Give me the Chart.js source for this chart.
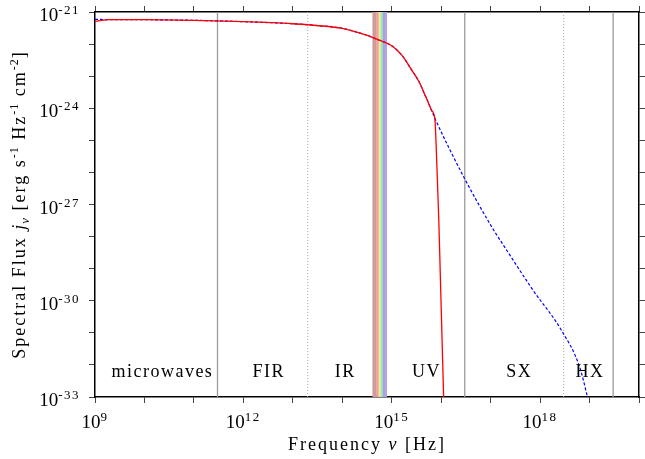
<!DOCTYPE html>
<html>
<head>
<meta charset="utf-8">
<script src="https://cdn.jsdelivr.net/npm/chart.js@4.4.1/dist/chart.umd.min.js"></script>
<style>
  body { margin: 0; background: #fff; }
  #wrap { width: 645px; height: 459px; }
</style>
</head>
<body>
<div id="wrap"><canvas id="spectrum"></canvas></div>
<script>
// thermal curve with exponential cutoff (red) and with the power-law tail (blue dashed)
const redFreq = [1e9, 2e9, 1e10, 1e11, 1e12, 1e13, 3e13, 1e14, 1.8e14, 3.2e14, 5.6e14, 1e15, 1.6e15, 2.5e15, 3.7e15, 4.5e15, 5.4e15, 6.3e15, 7.4e15,
                 7.6e15, 8.2e15, 8.9e15, 9.3e15, 1.12e16];
const redFlux = [5.1e-22, 5.8e-22, 5.75e-22, 5.5e-22, 5.0e-22, 4.3e-22, 3.8e-22, 3.1e-22, 2.45e-22, 1.86e-22, 1.32e-22, 8.9e-23, 4.5e-23, 1.6e-23, 6.0e-24, 3.0e-24, 1.6e-24, 9.0e-25, 5.0e-25,
                 3.0e-25, 1.5e-26, 4.2e-28, 3.9e-29, 1.0e-33];
const blueFreq = [1e9, 2e9, 1e10, 1e11, 1e12, 1e13, 3e13, 1e14, 1.8e14, 3.2e14, 5.6e14, 1e15, 1.6e15, 2.5e15, 3.7e15, 4.5e15, 5.4e15, 6.3e15, 7.4e15,
                  2.95e16, 1.15e17, 1.8e17, 7.1e17, 2.7e18, 6.3e18, 9.1e18];
const blueFlux = [5.9e-22, 5.8e-22, 5.75e-22, 5.5e-22, 5.0e-22, 4.3e-22, 3.8e-22, 3.1e-22, 2.45e-22, 1.86e-22, 1.32e-22, 8.9e-23, 4.5e-23, 1.6e-23, 6.0e-24, 3.0e-24, 1.6e-24, 9.0e-25, 5.0e-25,
                  6.6e-27, 1.6e-28, 5.5e-29, 2.2e-30, 1.2e-31, 8.7e-33, 1.0e-33];

// band boundaries [Hz]
const solidBounds = [3e11, 3e16, 3e19];
const dottedBounds = [2e13, 3e18];
const visibleEdges = [4.07e14, 4.9e14, 5.45e14, 5.9e14, 6.6e14, 7.2e14, 7.9e14];
const visibleColors = ["#cf9c9c", "#f4a0a0", "#f6ee96", "#a4eaa4", "#a0a0f5", "#b7a1e2"];

const regionNames = ["microwaves", "FIR", "IR", "UV", "SX", "HX"];
const regionFreq = [2.2e10, 3.1e12, 1.1e14, 4.8e15, 3.6e17, 9.8e18];
const regionFlux = [5.7e-33, 5.7e-33, 5.7e-33, 5.7e-33, 5.7e-33, 5.7e-33];

const xMin = 1e9, xMax = 1e20, yMin = 1e-33, yMax = 1e-21;
const xDecades = [9, 10, 11, 12, 13, 14, 15, 16, 17, 18, 19, 20];
const yDecades = [-33, -32, -31, -30, -29, -28, -27, -26, -25, -24, -23, -22, -21];
const xLabelExps = [9, 12, 15, 18];
const yLabelExps = [-21, -24, -27, -30, -33];

const FONT = '"Liberation Serif", "Times New Roman", serif';

const pts = (xs, ys) => xs.map((v, i) => ({ x: v, y: ys[i] }));
const vline = (f) => [{ x: f, y: yMin }, { x: f, y: yMax }];

const datasets = [
  { data: pts(redFreq, redFlux), borderColor: "#ff0000", borderWidth: 1.3, order: 0, cubicInterpolationMode: "monotone" },
  { data: pts(blueFreq, blueFlux), borderColor: "#0000ff", borderWidth: 1.2, borderDash: [3, 2], order: 1, cubicInterpolationMode: "monotone" },
];
solidBounds.forEach((f) => datasets.push({ data: vline(f), borderColor: "#9a9a9a", borderWidth: 1.3, order: 6 }));
dottedBounds.forEach((f) => datasets.push({ data: vline(f), borderColor: "#aaaaaa", borderWidth: 1, borderDash: [1, 2], order: 6 }));

const decadeTicks = (exps) => (scale) => { scale.ticks = exps.map((e) => ({ value: Math.pow(10, e) })); };

function axis(position, min, max, exps) {
  return {
    type: "logarithmic", position, min, max,
    afterBuildTicks: decadeTicks(exps),
    ticks: { display: false },
    grid: { drawOnChartArea: false, drawTicks: true, tickLength: 6, color: "#444", lineWidth: 1 },
    border: { color: "#000", width: 1.5 },
  };
}

function drawRuns(ctx, runs, x0, baseline, align) {
  let total = 0;
  runs.forEach((r) => { ctx.font = r.font; ctx.letterSpacing = r.ls || "0px"; r.w = ctx.measureText(r.t).width; total += r.w; });
  let x = align === "right" ? x0 - total : x0 - total / 2;
  runs.forEach((r) => {
    ctx.font = r.font; ctx.letterSpacing = r.ls || "0px";
    ctx.fillText(r.t, x, baseline + (r.dy || 0));
    x += r.w;
  });
}

function drawPower(ctx, exp, px, baseline, align) {
  drawRuns(ctx, [
    { t: "10", font: "19px " + FONT },
    { t: String(exp), font: "13px " + FONT, ls: "1.5px", dy: -7 },
  ], px, baseline, align);
}

// visible-light rainbow band, placed through the x scale
const rainbow = {
  id: "rainbow",
  beforeDatasetsDraw(chart) {
    const { ctx, chartArea: a, scales: { x } } = chart;
    ctx.save();
    visibleColors.forEach((c, i) => {
      const x1 = x.getPixelForValue(visibleEdges[i]);
      const x2 = x.getPixelForValue(visibleEdges[i + 1]);
      ctx.fillStyle = c;
      ctx.fillRect(x1, a.top, x2 - x1 + 0.3, a.bottom - a.top);
    });
    ctx.restore();
  },
};

const annotate = {
  id: "annotate",
  afterDraw(chart) {
    const { ctx, chartArea: a, scales: { x, y } } = chart;
    ctx.save();
    ctx.fillStyle = "#000";
    ctx.textAlign = "left";
    ctx.textBaseline = "alphabetic";

    xLabelExps.forEach((e) => drawPower(ctx, e, x.getPixelForValue(Math.pow(10, e)), a.bottom + 31, "center"));
    yLabelExps.forEach((e) => drawPower(ctx, e, a.left - 15, y.getPixelForValue(Math.pow(10, e)) + 9, "right"));

    // region names
    ctx.font = "18px " + FONT;
    ctx.letterSpacing = "1.5px";
    ctx.textAlign = "center";
    ctx.textBaseline = "middle";
    regionNames.forEach((n, i) => ctx.fillText(n, x.getPixelForValue(regionFreq[i]) + 1, y.getPixelForValue(regionFlux[i])));

    ctx.textAlign = "left";
    ctx.textBaseline = "alphabetic";
    const big = "18px " + FONT, ital = "italic 18px " + FONT, small = "12px " + FONT;
    drawRuns(ctx, [
      { t: "Frequency ", font: big, ls: "2px" },
      { t: "ν", font: ital, ls: "2px" },
      { t: " [Hz]", font: big, ls: "2px" },
    ], (a.left + a.right) / 2, a.bottom + 53);

    ctx.translate(25, (a.top + a.bottom) / 2);
    ctx.rotate(-Math.PI / 2);
    drawRuns(ctx, [
      { t: "Spectral Flux ", font: big, ls: "2px" },
      { t: "j", font: ital, ls: "1px" },
      { t: "ν", font: "italic 13px " + FONT, dy: 4, ls: "1px" },
      { t: " [erg s", font: big, ls: "2px" },
      { t: "-1", font: small, dy: -7, ls: "1px" },
      { t: " Hz", font: big, ls: "2px" },
      { t: "-1", font: small, dy: -7, ls: "1px" },
      { t: " cm", font: big, ls: "2px" },
      { t: "-2", font: small, dy: -7, ls: "1px" },
      { t: "]", font: big, ls: "2px" },
    ], 0, 0);
    ctx.restore();
  },
};

new Chart(document.getElementById("spectrum"), {
  type: "line",
  data: { datasets },
  options: {
    responsive: true,
    maintainAspectRatio: false,
    animation: false,
    layout: { padding: { left: 89, right: 0, top: 6, bottom: 56 } },
    elements: { point: { radius: 0 }, line: { tension: 0 } },
    plugins: { legend: { display: false }, tooltip: { enabled: false } },
    scales: {
      x: axis("bottom", xMin, xMax, xDecades),
      x2: axis("top", xMin, xMax, xDecades),
      y: axis("left", yMin, yMax, yDecades),
      y2: axis("right", yMin, yMax, yDecades),
    },
  },
  plugins: [rainbow, annotate],
});
</script>
</body>
</html>
